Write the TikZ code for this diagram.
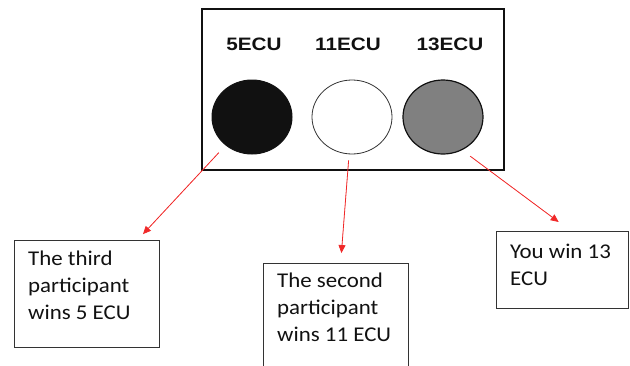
\documentclass[tikz,border=0pt]{standalone}
\usepackage{fontspec}
\setmainfont{Carlito}[FakeStretch=1.09]
\newfontfamily\tagfont{Liberation Sans}[FakeStretch=1.15]
\usepackage{xcolor}
\usetikzlibrary{arrows.meta,positioning,shapes.geometric}
\definecolor{Ink}{HTML}{111111}
\definecolor{Frame}{HTML}{333333}
\definecolor{Payout}{HTML}{F02828}
\definecolor{Grey}{HTML}{808080}

\begin{document}
\begin{tikzpicture}[x=1pt, y=-1pt,
  board/.style={draw=Ink, line width=2.6pt, minimum width=302pt, minimum height=161pt},
  coin/.style={ellipse, draw=Ink, line width=1pt, minimum width=80pt, minimum height=74pt},
  tag/.style={font=\tagfont\bfseries\fontsize{18}{20}\selectfont, text=Ink, inner sep=0pt},
  panel/.style={draw=Frame, line width=1.4pt, minimum width=145pt, anchor=north west},
  note/.style={align=left, anchor=north west, inner sep=0pt, text=Ink,
    font=\fontsize{21}{27}\selectfont},
  payout/.style={-{Triangle[length=8pt, width=7pt]}, line width=0.8pt, draw=Payout, fill=Payout}
]
  \useasboundingbox (0,0) rectangle (630,365);

  % urn with the three coloured balls
  \node[board] (urn) at (353,89.5) {};
  \node[tag] (tag5) at (254,44) {5ECU};
  \node[tag] (tag11) at (348,44) {11ECU};
  \node[tag] (tag13) at (450,44) {13ECU};
  \node[coin, fill=Ink] (coin5) at (252,117) {};
  \node[coin, fill=white, draw=Frame, line width=0.8pt] (coin11) at (352,117) {};
  \node[coin, fill=Grey, line width=1.2pt] (coin13) at (443,117) {};

  % outcome boxes
  \node[panel, minimum height=107pt] (third) at (14,240) {};
  \node[note] (thirdtext) at ([shift={(14pt,-11pt)}]third.north west) {The third\\participant\\wins 5 ECU};
  \node[panel, minimum height=112pt] (second) at (263,263) {};
  \node[note] (secondtext) at ([shift={(14pt,-10pt)}]second.north west) {The second\\participant\\wins 11 ECU};
  \node[panel, minimum width=132pt, minimum height=77pt] (you) at (496,231) {};
  \node[note] (youtext) at ([shift={(14pt,-13pt)}]you.north west) {You win 13\\ECU};

  \draw[payout, shorten <=10pt, shorten >=8pt] (coin5) -- (third);
  \draw[payout, shorten <=6pt, shorten >=10pt] (coin11) -- (second);
  \draw[payout, shorten <=10pt] (coin13.-60) -- ([shift={(-4pt,9pt)}]you.north);
\end{tikzpicture}
\end{document}
